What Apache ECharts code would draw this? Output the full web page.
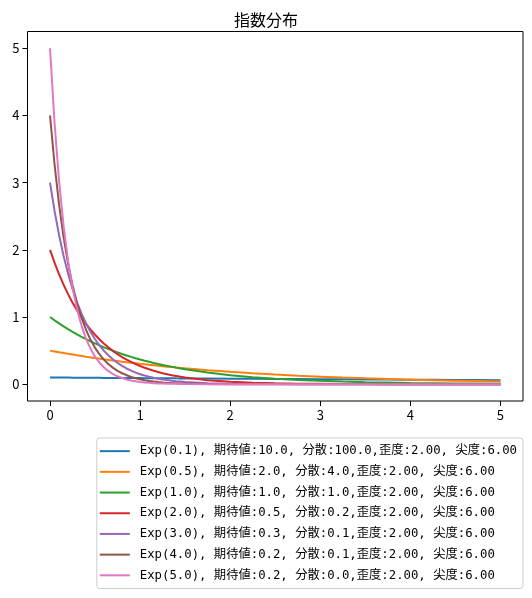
<!DOCTYPE html>
<html>
<head>
<meta charset="utf-8">
<script src="https://cdn.jsdelivr.net/npm/echarts@6/dist/echarts.min.js"></script>
<style>
  html, body { margin: 0; padding: 0; background: #fff; }
  #chart { width: 532px; height: 598px; }
</style>
</head>
<body>
<div id="chart"></div>
<script>
const xs = [
  0, 0.05, 0.1, 0.15, 0.2, 0.25, 0.3, 0.35, 0.4, 0.45, 0.5, 0.55, 0.6, 0.65, 0.7, 0.75,
  0.8, 0.85, 0.9, 0.95, 1.0, 1.05, 1.1, 1.15, 1.2, 1.25, 1.3, 1.35, 1.4, 1.45, 1.5,
  1.75, 2, 2.25, 2.5, 2.75, 3, 3.25, 3.5, 3.75, 4, 4.25, 4.5, 4.75, 5
];

const exp01 = [
  0.1000, 0.0995, 0.0990, 0.0985, 0.0980, 0.0975, 0.0970, 0.0966, 0.0961, 0.0956, 0.0951, 0.0946, 0.0942, 0.0937, 0.0932, 0.0928,
  0.0923, 0.0918, 0.0914, 0.0909, 0.0905, 0.0900, 0.0896, 0.0891, 0.0887, 0.0882, 0.0878, 0.0874, 0.0869, 0.0865, 0.0861,
  0.0839, 0.0819, 0.0799, 0.0779, 0.0760, 0.0741, 0.0723, 0.0705, 0.0687, 0.0670, 0.0654, 0.0638, 0.0622, 0.0607
];
const exp05 = [
  0.500, 0.488, 0.476, 0.464, 0.452, 0.441, 0.430, 0.420, 0.409, 0.399, 0.389, 0.380, 0.370, 0.361, 0.352, 0.344,
  0.335, 0.327, 0.319, 0.311, 0.303, 0.296, 0.288, 0.281, 0.274, 0.268, 0.261, 0.255, 0.248, 0.242, 0.236,
  0.208, 0.184, 0.162, 0.143, 0.126, 0.112, 0.098, 0.087, 0.077, 0.068, 0.060, 0.053, 0.047, 0.041
];
const exp10 = [
  1.000, 0.951, 0.905, 0.861, 0.819, 0.779, 0.741, 0.705, 0.670, 0.638, 0.607, 0.577, 0.549, 0.522, 0.497, 0.472,
  0.449, 0.427, 0.407, 0.387, 0.368, 0.350, 0.333, 0.317, 0.301, 0.287, 0.273, 0.259, 0.247, 0.235, 0.223,
  0.174, 0.135, 0.105, 0.082, 0.064, 0.050, 0.039, 0.030, 0.024, 0.018, 0.014, 0.011, 0.009, 0.007
];
const exp20 = [
  2.000, 1.810, 1.637, 1.482, 1.341, 1.213, 1.098, 0.993, 0.899, 0.813, 0.736, 0.666, 0.602, 0.545, 0.493, 0.446,
  0.404, 0.365, 0.331, 0.299, 0.271, 0.245, 0.222, 0.201, 0.181, 0.164, 0.149, 0.134, 0.122, 0.110, 0.100,
  0.060, 0.037, 0.022, 0.013, 0.008, 0.005, 0.003, 0.002, 0.001, 0.001, 0.000, 0.000, 0.000, 0.000
];
const exp30 = [
  3.000, 2.582, 2.222, 1.913, 1.646, 1.417, 1.220, 1.050, 0.904, 0.778, 0.669, 0.576, 0.496, 0.427, 0.367, 0.316,
  0.272, 0.234, 0.202, 0.173, 0.149, 0.129, 0.111, 0.095, 0.082, 0.071, 0.061, 0.052, 0.045, 0.039, 0.033,
  0.016, 0.007, 0.004, 0.002, 0.001, 0.000, 0.000, 0.000, 0.000, 0.000, 0.000, 0.000, 0.000, 0.000
];
const exp40 = [
  4.000, 3.275, 2.681, 2.195, 1.797, 1.472, 1.205, 0.986, 0.808, 0.661, 0.541, 0.443, 0.363, 0.297, 0.243, 0.199,
  0.163, 0.134, 0.109, 0.090, 0.073, 0.060, 0.049, 0.040, 0.033, 0.027, 0.022, 0.018, 0.015, 0.012, 0.010,
  0.004, 0.001, 0.000, 0.000, 0.000, 0.000, 0.000, 0.000, 0.000, 0.000, 0.000, 0.000, 0.000, 0.000
];
const exp50 = [
  5.000, 3.894, 3.033, 2.362, 1.839, 1.433, 1.116, 0.869, 0.677, 0.527, 0.410, 0.320, 0.249, 0.194, 0.151, 0.118,
  0.092, 0.071, 0.056, 0.043, 0.034, 0.026, 0.020, 0.016, 0.012, 0.010, 0.007, 0.006, 0.005, 0.004, 0.003,
  0.001, 0.000, 0.000, 0.000, 0.000, 0.000, 0.000, 0.000, 0.000, 0.000, 0.000, 0.000, 0.000, 0.000
];

const seriesNames = [
  'Exp(0.1), 期待値:10.0, 分散:100.0,歪度:2.00, 尖度:6.00',
  'Exp(0.5), 期待値:2.0, 分散:4.0,歪度:2.00, 尖度:6.00',
  'Exp(1.0), 期待値:1.0, 分散:1.0,歪度:2.00, 尖度:6.00',
  'Exp(2.0), 期待値:0.5, 分散:0.2,歪度:2.00, 尖度:6.00',
  'Exp(3.0), 期待値:0.3, 分散:0.1,歪度:2.00, 尖度:6.00',
  'Exp(4.0), 期待値:0.2, 分散:0.1,歪度:2.00, 尖度:6.00',
  'Exp(5.0), 期待値:0.2, 分散:0.0,歪度:2.00, 尖度:6.00'
];
const seriesValues = [exp01, exp05, exp10, exp20, exp30, exp40, exp50];
const colors = ['#1f77b4', '#ff7f0e', '#2ca02c', '#d62728', '#9467bd', '#8c564b', '#e377c2'];

const xTicks = [0, 1, 2, 3, 4, 5];
const yTicks = [0, 1, 2, 3, 4, 5];

const font = '"Noto Sans CJK JP", "Noto Sans CJK SC", sans-serif';
const monoFont = '"DejaVu Sans Mono", "Noto Sans CJK JP", monospace';

const chart = echarts.init(document.getElementById('chart'));

const axisCommon = {
  type: 'value',
  min: -0.25,
  max: 5.25,
  splitLine: { show: false },
  axisLine: { show: false, onZero: false },
  axisTick: { show: true, inside: false, length: 5, lineStyle: { color: '#000', width: 1 } },
  axisLabel: { color: '#000', fontSize: 13, fontFamily: font }
};

chart.setOption({
  animation: false,
  color: colors,
  title: {
    text: '指数分布',
    left: 'center',
    top: 7,
    textStyle: { fontSize: 16, fontWeight: 'normal', color: '#000', fontFamily: font }
  },
  grid: {
    left: 27.5,
    right: 9,
    top: 31.5,
    bottom: 197,
    show: true,
    borderColor: '#000',
    borderWidth: 1,
    containLabel: false
  },
  xAxis: Object.assign({}, axisCommon, {
    axisTick: Object.assign({}, axisCommon.axisTick, { customValues: xTicks }),
    axisLabel: Object.assign({}, axisCommon.axisLabel, { customValues: xTicks, margin: 8 })
  }),
  yAxis: Object.assign({}, axisCommon, {
    axisTick: Object.assign({}, axisCommon.axisTick, { customValues: yTicks }),
    axisLabel: Object.assign({}, axisCommon.axisLabel, { customValues: yTicks, margin: 8 })
  }),
  legend: {
    orient: 'vertical',
    right: 9,
    top: 438,
    padding: [7, 6, 7, 3],
    itemGap: 8.4,
    itemWidth: 30,
    itemHeight: 12,
    icon: 'path://M0,5 L30,5 L30,7 L0,7 Z',
    borderColor: '#cccccc',
    borderWidth: 1,
    borderRadius: 3,
    textStyle: { fontSize: 12.3, color: '#000', fontFamily: monoFont, padding: [0, 0, 0, 5] },
    data: seriesNames
  },
  series: seriesNames.map((name, i) => ({
    name: name,
    type: 'line',
    data: xs.map((x, j) => [x, seriesValues[i][j]]),
    smooth: false,
    showSymbol: false,
    symbol: 'none',
    lineStyle: { width: 2, color: colors[i] },
    itemStyle: { color: colors[i] },
    z: 2 + i
  }))
});
</script>
</body>
</html>
